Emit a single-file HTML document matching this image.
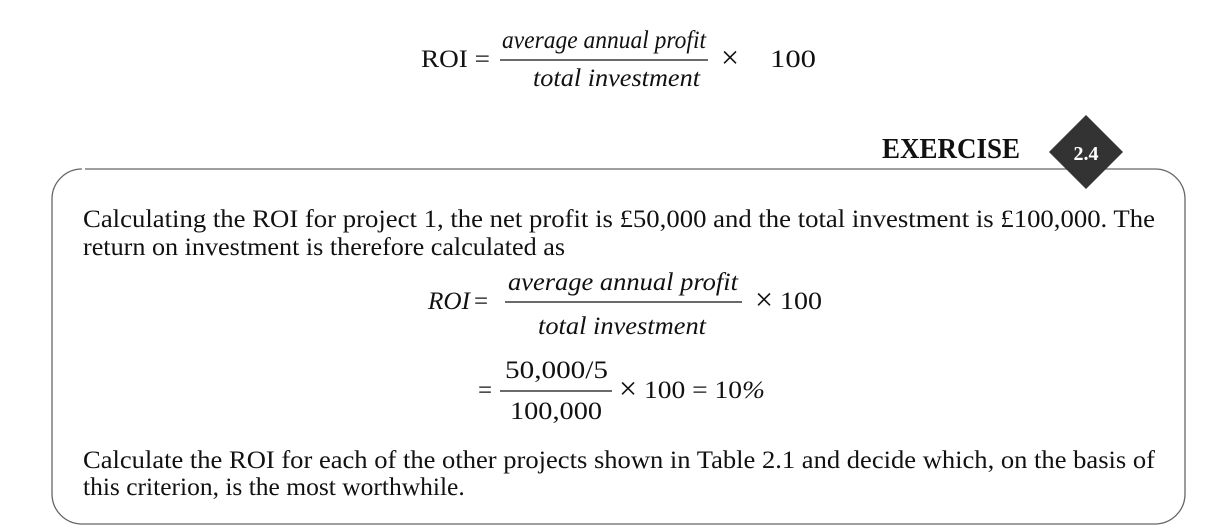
<!DOCTYPE html>
<html><head><meta charset="utf-8"><style>
html,body{margin:0;padding:0;background:#fff;width:1230px;height:531px;overflow:hidden}
svg{display:block}
text{font-family:"Liberation Serif",serif;fill:#111}
.i{font-style:italic}
</style></head><body>
<svg width="1230" height="531" viewBox="0 0 1230 531">
<g font-size="25">
<text x="421" y="67" textLength="69" lengthAdjust="spacingAndGlyphs">ROI =</text>
<text class="i" x="502" y="48" textLength="204" lengthAdjust="spacingAndGlyphs">average annual  profit</text>
<line x1="500" y1="60" x2="708" y2="60" stroke="#111" stroke-width="1.3"/>
<text class="i" x="533" y="86" textLength="167" lengthAdjust="spacingAndGlyphs">total investment</text>
<text x="721" y="68" font-size="32">×</text>
<text x="770" y="67" textLength="46" lengthAdjust="spacingAndGlyphs">100</text>
</g>
<text x="882" y="158" font-size="28" font-weight="bold" textLength="138" lengthAdjust="spacingAndGlyphs">EXERCISE</text>
<path d="M85 169 H1155 A30 30 0 0 1 1185 199 V494 A30 30 0 0 1 1155 524 H82 A30 30 0 0 1 52 494 V199 A30 30 0 0 1 82 169" fill="none" stroke="#666" stroke-width="1.3"/>
<polygon points="1086,115 1123,152 1086,189 1049,152" fill="#333"/>
<text x="1086" y="160" font-size="20" font-weight="bold" text-anchor="middle" style="fill:#fff">2.4</text>
<g font-size="25.5">
<text x="83" y="227" textLength="1072" lengthAdjust="spacingAndGlyphs">Calculating the ROI for project 1, the net profit is £50,000 and the total investment is £100,000. The</text>
<text x="83" y="255" textLength="482" lengthAdjust="spacingAndGlyphs">return on investment is therefore calculated as</text>
<text x="83" y="468" textLength="1072" lengthAdjust="spacingAndGlyphs">Calculate the ROI for each of the other projects shown in Table 2.1 and decide which, on the basis of</text>
<text x="83" y="495">this criterion, is the most worthwhile.</text>
</g>
<g font-size="25">
<text class="i" x="428" y="309" textLength="42" lengthAdjust="spacingAndGlyphs">ROI</text><text x="474" y="309">=</text>
<text class="i" x="508" y="290" textLength="230" lengthAdjust="spacingAndGlyphs">average annual  profit</text>
<line x1="505" y1="302" x2="742" y2="302" stroke="#111" stroke-width="1.3"/>
<text class="i" x="538" y="334" textLength="168" lengthAdjust="spacingAndGlyphs">total investment</text>
<text x="755" y="310" font-size="32">×</text>
<text x="780" y="309" textLength="42" lengthAdjust="spacingAndGlyphs">100</text>
<text x="478" y="398">=</text>
<text x="505" y="378" textLength="103" lengthAdjust="spacingAndGlyphs">50,000/5</text>
<line x1="500" y1="391" x2="612" y2="391" stroke="#111" stroke-width="1.3"/>
<text x="510" y="419" textLength="92" lengthAdjust="spacingAndGlyphs">100,000</text>
<text x="619" y="399" font-size="32">×</text>
<text x="644" y="398" textLength="121" lengthAdjust="spacingAndGlyphs">100 = 10<tspan class="i">%</tspan></text>
</g>
</svg>
</body></html>
